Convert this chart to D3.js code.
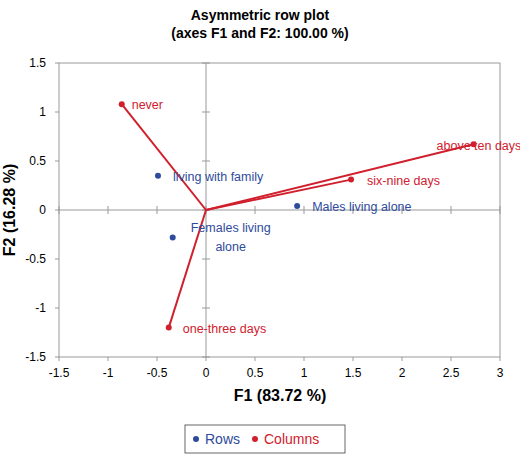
<!DOCTYPE html>
<html><head><meta charset="utf-8">
<script src="https://cdn.jsdelivr.net/npm/d3@7"></script>
<style>body{margin:0;background:#fff;font-family:"Liberation Sans",Arial,sans-serif}</style>
</head><body><svg id="chart" width="520" height="461"></svg>
<script>
const rowLabels = ["living with family", "Females living alone", "Males living alone"];
const rowF1 = [-0.49, -0.34, 0.93];
const rowF2 = [0.35, -0.28, 0.04];
const colLabels = ["never", "one-three days", "six-nine days", "above ten days"];
const colF1 = [-0.86, -0.38, 1.48, 2.73];
const colF2 = [1.08, -1.2, 0.31, 0.67];
const xTicks = [-1.5, -1, -0.5, 0, 0.5, 1, 1.5, 2, 2.5, 3];
const yTicks = [-1.5, -1, -0.5, 0, 0.5, 1, 1.5];

const svg = d3.select("#chart");
const blue = "#2f4b9c", red = "#d0202e";
const x = d3.scaleLinear().domain([-1.5, 3]).range([59, 500]);
const y = d3.scaleLinear().domain([-1.5, 1.5]).range([357, 63]);

svg.append("text").attr("x", 260).attr("y", 20).attr("text-anchor", "middle")
  .attr("font-weight", "bold").attr("font-size", 14).text("Asymmetric row plot");
svg.append("text").attr("x", 260).attr("y", 38).attr("text-anchor", "middle")
  .attr("font-weight", "bold").attr("font-size", 14).text("(axes F1 and F2: 100.00 %)");

svg.append("rect").attr("x", 59).attr("y", 63).attr("width", 441).attr("height", 294)
  .attr("fill", "none").attr("stroke", "#999");

// axes through origin
svg.append("line").attr("x1", x(-1.5)).attr("x2", x(3)).attr("y1", y(0)).attr("y2", y(0)).attr("stroke", "#999");
svg.append("line").attr("x1", x(0)).attr("x2", x(0)).attr("y1", y(-1.5)).attr("y2", y(1.5)).attr("stroke", "#999");
svg.selectAll(".xt").data(xTicks).join("line").attr("x1", d => x(d)).attr("x2", d => x(d))
  .attr("y1", y(0) - 4).attr("y2", y(0) + 4).attr("stroke", "#999");
svg.selectAll(".yt").data(yTicks).join("line").attr("y1", d => y(d)).attr("y2", d => y(d))
  .attr("x1", x(0) - 4).attr("x2", x(0) + 4).attr("stroke", "#999");

// outer ticks and labels
svg.selectAll(".xo").data(xTicks).join("line").attr("x1", d => x(d)).attr("x2", d => x(d))
  .attr("y1", 357).attr("y2", 361).attr("stroke", "#999");
svg.selectAll(".xl").data(xTicks).join("text").attr("x", d => x(d)).attr("y", 377)
  .attr("text-anchor", "middle").attr("font-size", 12).text(d => d);
svg.selectAll(".yo").data(yTicks).join("line").attr("y1", d => y(d)).attr("y2", d => y(d))
  .attr("x1", 55).attr("x2", 59).attr("stroke", "#999");
svg.selectAll(".yl").data(yTicks).join("text").attr("x", 46).attr("y", d => y(d) + 4)
  .attr("text-anchor", "end").attr("font-size", 12).text(d => d);

svg.append("text").attr("x", 280).attr("y", 401).attr("text-anchor", "middle")
  .attr("font-weight", "bold").attr("font-size", 16).text("F1 (83.72 %)");
svg.append("text").attr("transform", "translate(15,210) rotate(-90)").attr("text-anchor", "middle")
  .attr("font-weight", "bold").attr("font-size", 16).text("F2 (16.28 %)");

const cols = colLabels.map((l, i) => ({ l, f1: colF1[i], f2: colF2[i] }));
const rows = rowLabels.map((l, i) => ({ l, f1: rowF1[i], f2: rowF2[i] }));

svg.selectAll(".cl").data(cols).join("line").attr("x1", x(0)).attr("y1", y(0))
  .attr("x2", d => x(d.f1)).attr("y2", d => y(d.f2)).attr("stroke", red).attr("stroke-width", 2);
svg.selectAll(".cp").data(cols).join("circle").attr("cx", d => x(d.f1)).attr("cy", d => y(d.f2))
  .attr("r", 3).attr("fill", red);
const colOff = { "never": [10, 5], "one-three days": [14, 5], "six-nine days": [16, 5], "above ten days": [-37, 6] };
svg.selectAll(".ct").data(cols).join("text").attr("x", d => x(d.f1) + colOff[d.l][0])
  .attr("y", d => y(d.f2) + colOff[d.l][1]).attr("font-size", 12.5).attr("fill", red).text(d => d.l);

svg.selectAll(".rp").data(rows).join("circle").attr("cx", d => x(d.f1)).attr("cy", d => y(d.f2))
  .attr("r", 3).attr("fill", blue);
svg.selectAll(".rt").data(rows.filter(d => d.l !== "Females living alone")).join("text")
  .attr("x", d => x(d.f1) + 15).attr("y", d => y(d.f2) + 5).attr("font-size", 12.5).attr("fill", blue).text(d => d.l);
const fem = rows[1];
svg.append("text").attr("x", x(fem.f1) + 58).attr("y", y(fem.f2) - 5).attr("text-anchor", "middle")
  .attr("font-size", 12.5).attr("fill", blue).text("Females living");
svg.append("text").attr("x", x(fem.f1) + 58).attr("y", y(fem.f2) + 14).attr("text-anchor", "middle")
  .attr("font-size", 12.5).attr("fill", blue).text("alone");

// legend
svg.append("rect").attr("x", 185).attr("y", 425).attr("width", 160).attr("height", 28)
  .attr("fill", "none").attr("stroke", "#666");
svg.append("circle").attr("cx", 196).attr("cy", 439).attr("r", 3).attr("fill", blue);
svg.append("text").attr("x", 205).attr("y", 444).attr("font-size", 14).attr("fill", blue).text("Rows");
svg.append("circle").attr("cx", 255).attr("cy", 439).attr("r", 3).attr("fill", red);
svg.append("text").attr("x", 264).attr("y", 444).attr("font-size", 14).attr("fill", red).text("Columns");
</script></body></html>
